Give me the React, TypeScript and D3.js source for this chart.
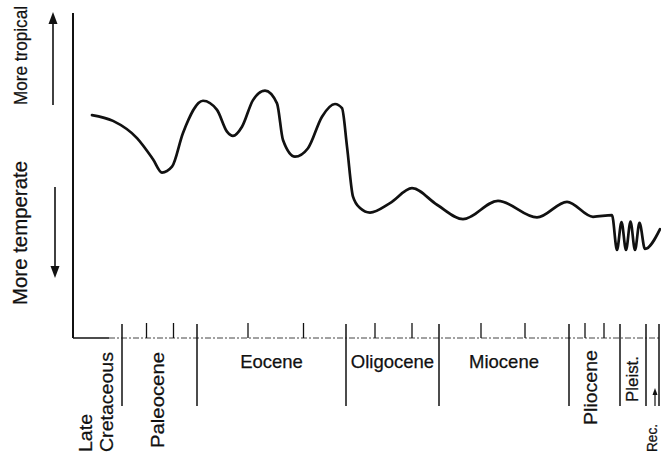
import * as d3 from 'd3';

// Schematic time axis (units along the axis, 0 = origin) and a relative climate index (0..100)
const curvePosition = [
  19, 40, 64, 80, 89, 99, 110, 130, 144, 154, 160, 169, 180, 192, 204, 210, 222, 235, 249, 262,
  269, 274, 280, 287, 297, 317, 339, 364, 390, 425, 464, 494, 520, 539,
  544, 548.5, 553, 557.5, 562, 566.5, 572, 587,
];
const climateIndex = [
  68.6, 66.8, 61.5, 55.0, 50.9, 52.7, 63.1, 73.0, 70.2, 63.5, 62.2, 65.0, 73.2, 76.1, 72.2, 60.9, 55.8, 58.4, 68.1, 72.0,
  70.7, 58.9, 43.5, 40.0, 38.6, 41.5, 46.1, 41.0, 36.6, 42.2, 37.1, 41.9, 37.3, 37.8,
  27.1, 35.7, 27.1, 35.8, 27.1, 35.4, 27.4, 33.5,
];

// epoch boundaries (long lines) and minor ticks, same axis units
const epochBoundaries = [49, 124, 273, 366, 496, 547, 573, 586];
const minorTicks = [73.5, 100.5, 175, 230.5, 302, 339, 408, 452, 512, 531];

const horizontalEpochs = ['Eocene', 'Oligocene', 'Miocene'];
const verticalEpochs = ['Late|Cretaceous', 'Paleocene', 'Pliocene', 'Pleist.', 'Rec.'];

const W = 661;
const H = 454;
const FONT = '"Liberation Sans", Arial, Helvetica, sans-serif';
const INK = '#111';

export default function App() {
  const x = d3.scaleLinear().domain([0, 588]).range([73, 661]);
  const y = d3.scaleLinear().domain([0, 100]).range([338, 13]);

  const pts = curvePosition.map((p, i) => [p, climateIndex[i]] as [number, number]);
  const line = d3
    .line<[number, number]>()
    .x(d => x(d[0]))
    .y(d => y(d[1]))
    .curve(d3.curveMonotoneX);

  const axisY = y(0);
  const b = epochBoundaries.map(v => x(v));

  // horizontal labels sit between boundaries 1-2, 2-3, 3-4
  const hLabels = horizontalEpochs.map((name, i) => ({
    name,
    cx: (b[i + 1] + b[i + 2]) / 2,
  }));

  // vertical labels: baseline x, starting y, font size, length
  const vLayout = [
    { lines: verticalEpochs[0].split('|'), xs: [x(0) + 19, x(0) + 40], y0: 452, fs: 19, len: [38, 100] },
    { lines: [verticalEpochs[1]], xs: [(b[0] + b[1]) / 2 + 4], y0: 448, fs: 19, len: [96] },
    { lines: [verticalEpochs[2]], xs: [(b[4] + b[5]) / 2 + 2.5], y0: 425, fs: 19, len: [75] },
    { lines: [verticalEpochs[3]], xs: [(b[5] + b[6]) / 2 + 5], y0: 402, fs: 17, len: [46] },
    { lines: [verticalEpochs[4]], xs: [(b[6] + b[7]) / 2 + 4.5], y0: 452, fs: 14, len: [28] },
  ];

  const arrowHead = (ax: number, ay: number, dir: 1 | -1, w = 4, l = 11) =>
    `M${ax},${ay} L${ax - w},${ay - dir * l} L${ax + w},${ay - dir * l} Z`;

  const textStyle = { fill: INK, stroke: INK, strokeWidth: 0.25 };

  return (
    <div style={{ position: 'absolute', left: 0, top: 0, width: W, height: H, background: '#fff' }}>
      <svg width={W} height={H} style={{ display: 'block' }} fontFamily={FONT}>
        <rect width={W} height={H} fill="#fff" />

        {/* y axis */}
        <line x1={x(0)} x2={x(0)} y1={y(100)} y2={axisY} stroke={INK} strokeWidth={2} />
        {/* x axis */}
        <line x1={x(0)} x2={x(36)} y1={axisY} y2={axisY} stroke={INK} strokeWidth={1.4} />
        <line
          x1={x(36)}
          x2={W}
          y1={axisY}
          y2={axisY}
          stroke="#444"
          strokeWidth={1}
          strokeDasharray="6 2 2 2"
        />

        {/* minor ticks */}
        {minorTicks.map((t, i) => (
          <line key={'t' + i} x1={x(t)} x2={x(t)} y1={axisY - 15} y2={axisY} stroke={INK} strokeWidth={1.3} />
        ))}
        {/* epoch boundaries */}
        {epochBoundaries.map((t, i) => (
          <line key={'b' + i} x1={x(t)} x2={x(t)} y1={axisY - 14} y2={406} stroke={INK} strokeWidth={1.5} />
        ))}

        {/* curve */}
        <path d={line(pts) || ''} fill="none" stroke={INK} strokeWidth={2.7} strokeLinejoin="round" strokeLinecap="round" />

        {/* y direction labels */}
        <text
          transform={`translate(27,105) rotate(-90)`}
          fontSize={17.5}
          {...textStyle}
          textLength={99}
          lengthAdjust="spacingAndGlyphs"
        >
          More tropical
        </text>
        <text
          transform={`translate(27,305) rotate(-90)`}
          fontSize={19.5}
          {...textStyle}
          textLength={144}
          lengthAdjust="spacingAndGlyphs"
        >
          More temperate
        </text>
        <line x1={53} x2={53} y1={105} y2={20} stroke={INK} strokeWidth={1.6} />
        <path d={arrowHead(53, 12, -1, 4.5, 12)} fill={INK} />
        <line x1={55} x2={55} y1={187} y2={270} stroke={INK} strokeWidth={1.6} />
        <path d={arrowHead(55, 278, 1, 4.5, 12)} fill={INK} />

        {/* horizontal epoch labels */}
        {hLabels.map(l => (
          <text key={l.name} x={l.cx} y={368} textAnchor="middle" fontSize={18.5} {...textStyle}>
            {l.name}
          </text>
        ))}

        {/* vertical epoch labels */}
        {vLayout.map((v, i) =>
          v.lines.map((s, j) => (
            <text
              key={`v${i}-${j}`}
              transform={`translate(${v.xs[j]},${v.y0}) rotate(-90)`}
              fontSize={v.fs}
              {...textStyle}
              textLength={v.len[j]}
              lengthAdjust="spacingAndGlyphs"
            >
              {s}
            </text>
          ))
        )}

        {/* Recent arrow */}
        <line x1={655} x2={655} y1={406} y2={394} stroke={INK} strokeWidth={1.2} />
        <path d={arrowHead(655, 388, -1, 2.5, 7)} fill={INK} />
      </svg>
    </div>
  );
}
